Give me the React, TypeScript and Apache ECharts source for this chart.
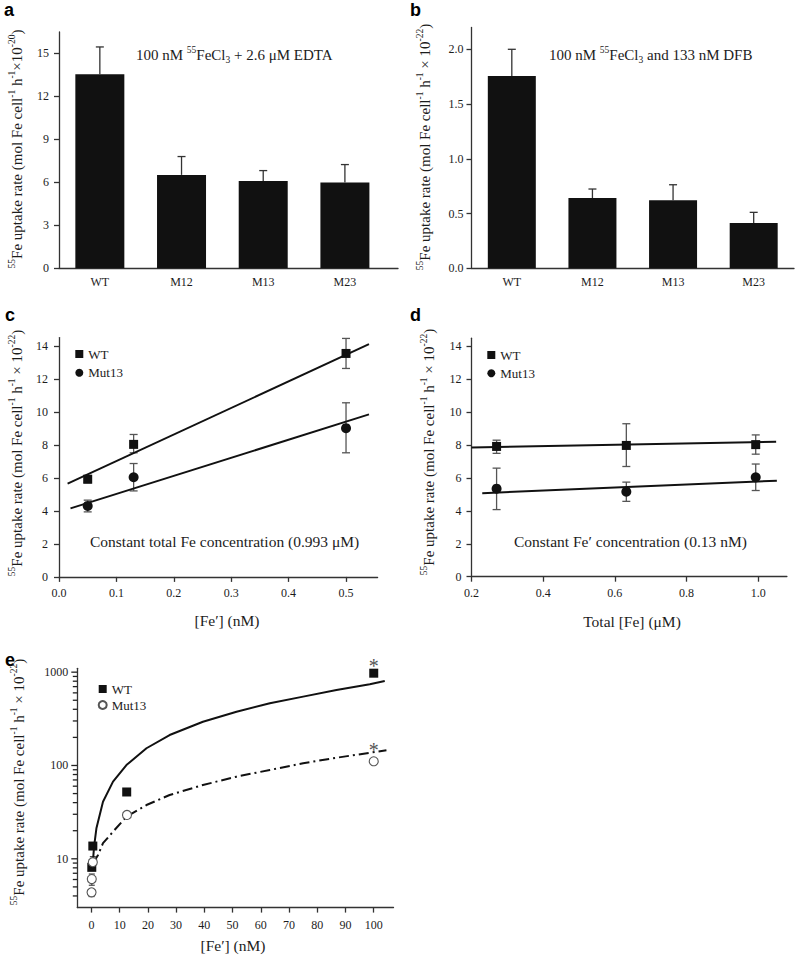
import React, { useEffect, useRef } from 'react';
import * as echarts from 'echarts';

const SERIF = '"Liberation Serif", "Times New Roman", serif';
const SANS = '"Liberation Sans", Arial, sans-serif';
const INK = '#1c1c1c';
const AXIS = '#333333';
const ERR = '#555555';

// ---------- panels a / b ----------
const strains = ['WT', 'M12', 'M13', 'M23'];
const strainPos = [1, 2, 3, 4];
const edtaUptake = [13.55, 6.52, 6.1, 5.98];
const edtaUptakeErrTop = [15.45, 7.8, 6.82, 7.24];
const dfbUptake = [1.756, 0.642, 0.621, 0.414];
const dfbUptakeErrTop = [2.0, 0.724, 0.763, 0.511];
const ticksA = [0, 3, 6, 9, 12, 15];
const ticksB = [0, 0.5, 1.0, 1.5, 2.0];

// ---------- panel c ----------
const feFreeC = [0.05, 0.13, 0.5];
const wtC = [5.92, 8.03, 13.54];
const wtCLow = [5.7, 7.52, 12.63];
const wtCHigh = [6.14, 8.63, 14.45];
const mutC = [4.3, 6.04, 9.01];
const mutCLow = [3.94, 5.21, 7.52];
const mutCHigh = [4.65, 6.87, 10.55];
const wtFitCX = [0.015, 0.54];
const wtFitCY = [5.65, 14.1];
const mutFitCX = [0.02, 0.54];
const mutFitCY = [4.15, 9.85];
const ticksCX = [0, 0.1, 0.2, 0.3, 0.4, 0.5];
const ticksCY = [0, 2, 4, 6, 8, 10, 12, 14];

// ---------- panel d ----------
const totalFeD = [0.27, 0.632, 0.993];
const wtD = [7.92, 7.98, 8.03];
const wtDLow = [7.5, 6.7, 7.45];
const wtDHigh = [8.3, 9.3, 8.62];
const mutD = [5.35, 5.17, 6.04];
const mutDLow = [4.08, 4.58, 5.24];
const mutDHigh = [6.6, 5.75, 6.85];
const wtFitDX = [0.2, 1.05];
const wtFitDY = [7.86, 8.2];
const mutFitDX = [0.23, 1.052];
const mutFitDY = [5.08, 5.84];
const ticksDX = [0.2, 0.4, 0.6, 0.8, 1.0];
const ticksDY = [0, 2, 4, 6, 8, 10, 12, 14];

// ---------- panel e ----------
const feFreeWtE = [0.13, 0.5, 12.5, 100];
const wtE = [8.1, 13.7, 52, 975];
const wtELow = [7.52, 12.63, 50, 950];
const wtEHigh = [8.63, 14.45, 54, 1000];
const wtESignificant = [false, false, false, true];
const feFreeMutE = [0.05, 0.13, 0.5, 12.6, 100];
const mutE = [4.37, 6.07, 9.2, 29.5, 111];
const mutELow = [3.94, 5.21, 7.52, 27.5, 106];
const mutEHigh = [4.65, 6.87, 10.55, 31.5, 116];
const mutESignificant = [false, false, false, false, true];
const wtCurveX = [0.35, 0.93, 1.77, 4.1, 7.65, 12.4, 19.5, 27.7, 39.5, 51.4, 63.2, 75, 86.8, 98.6, 103.9];
const wtCurveY = [7.9, 13.4, 21.2, 40.9, 67.1, 101, 153, 212, 294, 377, 464, 547, 645, 741, 803];
const mutCurveX = [0.57, 2.35, 4.1, 7.65, 12.4, 19.5, 27.7, 39.5, 51.4, 63.2, 75, 86.8, 98.6, 104.5];
const mutCurveY = [8.95, 11, 14.7, 19.5, 28.3, 37.7, 48.3, 61.8, 75.9, 89.5, 105.6, 121, 137, 145.6];
const ticksEX = [0, 10, 20, 30, 40, 50, 60, 70, 80, 90, 100];
const ticksEY = [10, 100, 1000];
const allTicksEY = [4, 5, 6, 7, 8, 9, 10, 20, 30, 40, 50, 60, 70, 80, 90, 100, 200, 300, 400, 500, 600, 700, 800, 900, 1000];
const rangeEX = [-5, 107];
const rangeEY = [3, 1100];

const zip = (xs: number[], ys: number[]) => xs.map((x, i) => [x, ys[i]]);
const zip3 = (xs: number[], a: number[], b: number[]) => xs.map((x, i) => [x, a[i], b[i]]);

const errorRender = (capHalf: number, color: string, width: number, lowerCap: boolean) =>
  (_params: any, api: any) => {
    const x = api.value(0);
    const lo = api.value(1);
    const hi = api.value(2);
    const top = api.coord([x, hi]);
    const bot = api.coord([x, lo]);
    const style = { stroke: color, lineWidth: width, fill: 'none' };
    const children: any[] = [
      { type: 'line', shape: { x1: top[0], y1: top[1], x2: bot[0], y2: bot[1] }, style },
      { type: 'line', shape: { x1: top[0] - capHalf, y1: top[1], x2: top[0] + capHalf, y2: top[1] }, style },
    ];
    if (lowerCap) {
      children.push({ type: 'line', shape: { x1: bot[0] - capHalf, y1: bot[1], x2: bot[0] + capHalf, y2: bot[1] }, style });
    }
    return { type: 'group', children };
  };

// tick marks of the logarithmic axis of panel e, placed through that axis' own scale
const logTickRender = (_params: any, api: any) => {
  const v = api.value(1);
  const p = api.coord([api.value(0), v]);
  const len = ticksEY.indexOf(v) >= 0 ? 6 : 4.5;
  return {
    type: 'line',
    shape: { x1: p[0] - len, y1: p[1], x2: p[0], y2: p[1] },
    style: { stroke: '#222', lineWidth: 1.3 },
    z2: 10,
  };
};

const axisLine = { show: true, onZero: false, lineStyle: { color: AXIS, width: 1.3 } };
const labelBase = { fontSize: 12, fontFamily: SERIF, color: INK };

function numAxis(gridIndex: number, min: number, max: number, ticks: number[], fmt: (v: number) => string, margin: number, extra: any = {}) {
  return {
    type: 'value',
    gridIndex,
    min,
    max,
    axisLine,
    axisTick: { show: true, customValues: ticks, length: 5, lineStyle: { color: AXIS, width: 1.3 } },
    axisLabel: { ...labelBase, customValues: ticks, formatter: fmt, margin },
    splitLine: { show: false },
    ...extra,
  };
}

const barAxis = (gridIndex: number, min: number, max: number) => ({
  type: 'value',
  gridIndex,
  min,
  max,
  axisLine,
  axisTick: { show: false },
  axisLabel: { ...labelBase, customValues: strainPos, formatter: (v: number) => strains[Math.round(v) - 1] || '', margin: 8 },
  splitLine: { show: false },
});

const rich = {
  n: { fontSize: 15, fontFamily: SERIF, fill: INK, color: INK, lineHeight: 20, verticalAlign: 'middle' },
  sup: { fontSize: 9.5, fontFamily: SERIF, fill: INK, color: INK, lineHeight: 9, verticalAlign: 'top' },
  sub: { fontSize: 9.5, fontFamily: SERIF, fill: INK, color: INK, lineHeight: 12, verticalAlign: 'bottom' },
};

const yTitle = (exp: string, spaced: boolean) =>
  `{sup|55}{n|Fe uptake rate (mol Fe cell}{sup|-1}{n| h}{sup|-1}{n|${spaced ? ' × ' : '×'}10}{sup|${exp}}{n|)}`;

const richText = (x: number, y: number, text: string, align: string, rotate = false) => ({
  type: 'text',
  x,
  y,
  rotation: rotate ? Math.PI / 2 : 0,
  silent: true,
  style: { text, rich, align, textAlign: align, verticalAlign: 'middle', textVerticalAlign: 'middle', fill: INK },
});

const plainText = (x: number, y: number, text: string, size: number, align = 'center', family = SERIF, weight = 'normal') => ({
  type: 'text',
  x,
  y,
  silent: true,
  style: {
    text,
    fontSize: size,
    fontFamily: family,
    fontWeight: weight,
    fill: weight === 'bold' ? '#000' : INK,
    align,
    textAlign: align,
    verticalAlign: 'middle',
    textVerticalAlign: 'middle',
  },
});

const legendFor = (suffix: string, left: number, top: number, size: number, gap: number) => ({
  data: [`WT|${suffix}`, `Mut13|${suffix}`],
  orient: 'vertical',
  left,
  top,
  itemWidth: size,
  itemHeight: size,
  itemGap: gap,
  selectedMode: false,
  padding: 0,
  formatter: (name: string) => name.split('|')[0],
  textStyle: { fontSize: 13, fontFamily: SERIF, color: INK, lineHeight: 14 },
});

function buildOption() {
  const grids = [
    { left: 59, top: 31.9, width: 339, height: 236.4 },
    { left: 471.5, top: 27.4, width: 322.5, height: 240.9 },
    { left: 59, top: 337.6, width: 318.6, height: 239.3 },
    { left: 471.5, top: 338.2, width: 315.4, height: 238.5 },
    { left: 77.3, top: 668.3, width: 316.2, height: 239.3 },
  ];

  const xAxis = [
    barAxis(0, 0.5, 4.65),
    barAxis(1, 0.5, 4.5),
    numAxis(2, 0, 0.555, ticksCX, (v) => v.toFixed(1), 10),
    numAxis(3, 0.2, 1.08, ticksDX, (v) => v.toFixed(1), 10),
    numAxis(4, rangeEX[0], rangeEX[1], ticksEX, (v) => String(v), 11),
  ];

  const yAxis: any[] = [
    numAxis(0, 0, 16.5, ticksA, (v) => String(v), 10),
    numAxis(1, 0, 2.2, ticksB, (v) => v.toFixed(1), 8),
    numAxis(2, 0, 14.5, ticksCY, (v) => String(v), 11),
    numAxis(3, 0, 14.5, ticksDY, (v) => String(v), 10),
    {
      type: 'log',
      logBase: 10,
      gridIndex: 4,
      min: rangeEY[0],
      max: rangeEY[1],
      axisLine,
      axisTick: { show: false },
      axisLabel: {
        ...labelBase,
        customValues: ticksEY,
        formatter: (v: number) => String(Math.round(v)),
        margin: 9,
      },
      splitLine: { show: false },
    },
  ];

  const scatter = (name: string, xi: number, data: any[], symbol: string, size: number, itemStyle: any, z = 5) => ({
    type: 'scatter',
    name,
    xAxisIndex: xi,
    yAxisIndex: xi,
    data,
    symbol,
    symbolSize: size,
    itemStyle: { opacity: 1, ...itemStyle },
    z,
  });
  const errSeries = (xi: number, data: any[], lowerCap: boolean, color = ERR, width = 1.3, capHalf = 4) => ({
    type: 'custom',
    xAxisIndex: xi,
    yAxisIndex: xi,
    coordinateSystem: 'cartesian2d',
    data,
    encode: { x: 0, y: [1, 2] },
    renderItem: errorRender(capHalf, color, width, lowerCap),
    silent: true,
    z: 3,
  });
  const fitLine = (xi: number, data: any[], type: any = 'solid') => ({
    type: 'line',
    xAxisIndex: xi,
    yAxisIndex: xi,
    data,
    symbol: 'none',
    showSymbol: false,
    silent: true,
    lineStyle: { color: '#111', width: 2, type },
    z: 4,
  });
  const star = (dy: number) => ({
    show: true,
    formatter: '*',
    position: 'inside',
    offset: [0, dy],
    fontSize: 20,
    fontFamily: SERIF,
    color: '#555',
  });

  const series: any[] = [
    // a
    {
      type: 'bar', xAxisIndex: 0, yAxisIndex: 0, barWidth: 49,
      data: zip(strainPos, edtaUptake), itemStyle: { color: '#111' }, silent: true, z: 2,
    },
    errSeries(0, zip3(strainPos, edtaUptake, edtaUptakeErrTop), false, '#333', 1.3, 4),
    // b
    {
      type: 'bar', xAxisIndex: 1, yAxisIndex: 1, barWidth: 48,
      data: zip(strainPos, dfbUptake), itemStyle: { color: '#111' }, silent: true, z: 2,
    },
    errSeries(1, zip3(strainPos, dfbUptake, dfbUptakeErrTop), false, '#333', 1.3, 4),
    // c
    errSeries(2, zip3(feFreeC, wtCLow, wtCHigh), true),
    errSeries(2, zip3(feFreeC, mutCLow, mutCHigh), true),
    fitLine(2, zip(wtFitCX, wtFitCY)),
    fitLine(2, zip(mutFitCX, mutFitCY)),
    scatter('WT|c', 2, zip(feFreeC, wtC), 'rect', 9, { color: '#111' }),
    scatter('Mut13|c', 2, zip(feFreeC, mutC), 'circle', 10, { color: '#111' }),
    // d
    errSeries(3, zip3(totalFeD, wtDLow, wtDHigh), true),
    errSeries(3, zip3(totalFeD, mutDLow, mutDHigh), true),
    fitLine(3, zip(wtFitDX, wtFitDY)),
    fitLine(3, zip(mutFitDX, mutFitDY)),
    scatter('WT|d', 3, zip(totalFeD, wtD), 'rect', 9, { color: '#111' }),
    scatter('Mut13|d', 3, zip(totalFeD, mutD), 'circle', 10, { color: '#111' }),
    // e
    {
      type: 'custom',
      xAxisIndex: 4,
      yAxisIndex: 4,
      coordinateSystem: 'cartesian2d',
      data: allTicksEY.map((v) => [rangeEX[0], v]),
      encode: { x: 0, y: 1 },
      renderItem: logTickRender,
      clip: false,
      silent: true,
      z: 10,
    },
    errSeries(4, zip3(feFreeWtE, wtELow, wtEHigh), true, '#444', 1.2, 3),
    errSeries(4, zip3(feFreeMutE, mutELow, mutEHigh), true, '#444', 1.2, 3),
    fitLine(4, zip(wtCurveX, wtCurveY)),
    fitLine(4, zip(mutCurveX, mutCurveY), [10, 4, 2, 4]),
    scatter(
      'WT|e', 4,
      feFreeWtE.map((x, i) => (wtESignificant[i] ? { value: [x, wtE[i]], label: star(-7.5) } : [x, wtE[i]])),
      'rect', 9, { color: '#111' }, 5,
    ),
    scatter(
      'Mut13|e', 4,
      feFreeMutE.map((x, i) => (mutESignificant[i] ? { value: [x, mutE[i]], label: star(-11) } : [x, mutE[i]])),
      'circle', 9, { color: '#ffffff', borderColor: '#555', borderWidth: 1.1 }, 6,
    ),
  ];

  const graphic: any[] = [
    plainText(4, 9.5, 'a', 18, 'left', SANS, 'bold'),
    plainText(410, 9.5, 'b', 18, 'left', SANS, 'bold'),
    plainText(5, 315, 'c', 18, 'left', SANS, 'bold'),
    plainText(410, 315, 'd', 18, 'left', SANS, 'bold'),
    plainText(5, 660, 'e', 18, 'left', SANS, 'bold'),
    richText(136, 55, '{n|100 nM }{sup|55}{n|FeCl}{sub|3}{n| + 2.6 μM EDTA}', 'left'),
    richText(549, 55, '{n|100 nM }{sup|55}{n|FeCl}{sub|3}{n| and 133 nM DFB}', 'left'),
    plainText(90, 541, 'Constant total Fe concentration (0.993 μM)', 15.5, 'left'),
    plainText(514, 541, 'Constant Fe′ concentration (0.13 nM)', 15.5, 'left'),
    richText(16.5, 149, yTitle('-20', false), 'center', true),
    richText(425, 147, yTitle('-22', true), 'center', true),
    richText(16.5, 453, yTitle('-22', true), 'center', true),
    richText(429, 452, yTitle('-22', true), 'center', true),
    richText(18.5, 782, yTitle('-22', true), 'center', true),
    plainText(227, 620, '[Fe′] (nM)', 15.5),
    plainText(632, 621.5, 'Total [Fe] (μM)', 15.5),
    plainText(233, 945, '[Fe′] (nM)', 15.5),
  ];

  return {
    animation: false,
    backgroundColor: '#ffffff',
    textStyle: { fontFamily: SERIF },
    grid: grids,
    xAxis,
    yAxis,
    legend: [
      legendFor('c', 75.3, 347, 8, 4.7),
      legendFor('d', 487.3, 348, 8, 4.3),
      legendFor('e', 97.7, 682, 8, 2),
    ],
    series,
    graphic,
  };
}

export default function App() {
  const ref = useRef<HTMLDivElement>(null);
  useEffect(() => {
    const el = ref.current;
    if (!el) return;
    const chart = echarts.init(el, null, { renderer: 'svg', width: 795, height: 959 });
    chart.setOption(buildOption() as any);
    return () => chart.dispose();
  }, []);
  return (
    <div
      ref={ref}
      style={{ position: 'fixed', left: 0, top: 0, width: 795, height: 959, background: '#fff' }}
    />
  );
}
